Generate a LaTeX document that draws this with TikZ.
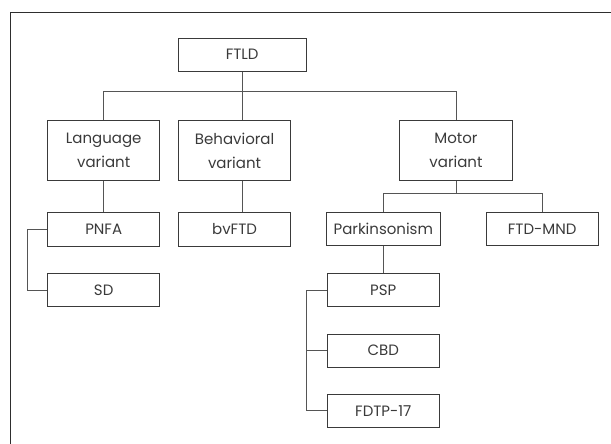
\documentclass[tikz,border=0pt]{standalone}
\usepackage{fontspec}
\setmainfont{Poppins}
\definecolor{boxc}{HTML}{3A3A3A}
\definecolor{linec}{HTML}{555555}
\definecolor{txt}{HTML}{3A3A3A}
\definecolor{framec}{HTML}{2E2E2E}
\begin{document}
\begin{tikzpicture}[x=1pt,y=-1pt,
  box/.style={draw=boxc, line width=0.9pt, text=txt, minimum width=112.3pt, minimum height=33.3pt, inner sep=0pt, font=\fontsize{15}{24}\selectfont, align=center},
  tall/.style={box, minimum height=59.5pt},
  conn/.style={draw=linec, line width=0.9pt}]
\useasboundingbox (0,0) rectangle (611,444);
\draw[framec, line width=1.3pt] (10.5,444) -- (10.5,12.3) -- (611,12.3);

\node[box, minimum width=127.7pt] (ftld) at (242.2,54.7) {FTLD};
\node[tall] (lang) at (103.7,150.5) {Language\\variant};
\node[tall] (beh) at (234.6,150.5) {Behavioral\\variant};
\node[tall] (mot) at (456,150.5) {Motor\\variant};
\node[box] (pnfa) at (103.7,229.3) {PNFA};
\node[box] (bv) at (234.6,229.3) {bvFTD};
\node[box] (sd) at (103.7,290) {SD};
\node[box, minimum width=113.3pt] (park) at (383.3,229.1) {Parkinsonism};
\node[box] (mnd) at (542.2,229.1) {FTD-MND};
\node[box] (psp) at (383.3,290) {PSP};
\node[box] (cbd) at (383.3,350.7) {CBD};
\node[box] (fdtp) at (383.3,410.7) {FDTP-17};

\coordinate (b1) at (0,91);
\coordinate (b2) at (0,193);
\coordinate (lb) at (27.3,0);
\coordinate (pb) at (306.3,0);

\draw[conn] (ftld.south) -- (ftld.south |- beh.north);
\draw[conn] (lang.north) -- (lang.north |- b1) -- (mot.north |- b1) -- (mot.north);
\draw[conn] (beh.south -| ftld.south) -- (bv.north -| ftld.south);
\draw[conn] (lang.south) -- (pnfa.north);
\draw[conn] (pnfa.west) -- (pnfa.west -| lb) |- (sd.west);
\draw[conn] (mot.south) -- (mot.south |- b2);
\draw[conn] (park.north) -- (park.north |- b2) -- (mnd.north |- b2) -- (mnd.north);
\draw[conn] (park.south) -- (psp.north);
\draw[conn] (psp.west) -- (psp.west -| pb) |- (fdtp.west);
\draw[conn] (cbd.west) -- (cbd.west -| pb);
\end{tikzpicture}
\end{document}
